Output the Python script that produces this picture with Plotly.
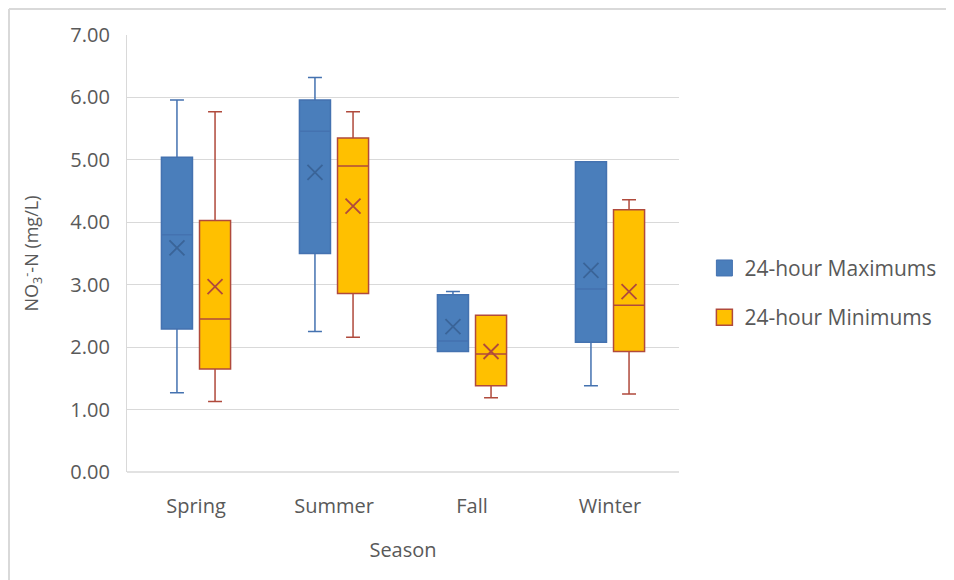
import plotly.graph_objects as go

seasons = ["Spring", "Summer", "Fall", "Winter"]

# 24-hour Maximums
max_lower = [1.27, 2.25, 1.93, 1.38]
max_q1 = [2.29, 3.50, 1.93, 2.08]
max_median = [3.80, 5.46, 2.10, 2.93]
max_q3 = [5.04, 5.96, 2.84, 4.97]
max_upper = [5.96, 6.32, 2.89, 4.97]
max_mean = [3.59, 4.80, 2.33, 3.23]

# 24-hour Minimums
min_lower = [1.13, 2.16, 1.19, 1.25]
min_q1 = [1.65, 2.86, 1.38, 1.93]
min_median = [2.45, 4.90, 1.89, 2.67]
min_q3 = [4.03, 5.35, 2.51, 4.20]
min_upper = [5.77, 5.77, 2.51, 4.36]
min_mean = [2.97, 4.26, 1.93, 2.89]

y_ticks = [0, 1, 2, 3, 4, 5, 6, 7]

FONT = "Open Sans"
GRAY = "#595959"
OFF = 0.138
BW = 0.225
BLUE_FILL, BLUE_LINE, BLUE_X = "#4a7ebb", "#4472b0", "#3a6498"
ORG_FILL, ORG_LINE, ORG_X = "#ffc000", "#b04a3c", "#b04a3c"

idx = list(range(len(seasons)))
x_max = [i - OFF for i in idx]
x_min = [i + OFF for i in idx]

fig = go.Figure()
fig.add_trace(go.Box(
    name="24-hour Maximums", x=x_max, q1=max_q1, median=max_median, q3=max_q3,
    lowerfence=max_lower, upperfence=max_upper, width=BW, whiskerwidth=0.45,
    fillcolor=BLUE_FILL, line=dict(color=BLUE_LINE, width=1.5),
    boxpoints=False, hoverinfo="skip", showlegend=False,
))
fig.add_trace(go.Box(
    name="24-hour Minimums", x=x_min, q1=min_q1, median=min_median, q3=min_q3,
    lowerfence=min_lower, upperfence=min_upper, width=BW, whiskerwidth=0.45,
    fillcolor=ORG_FILL, line=dict(color=ORG_LINE, width=1.5),
    boxpoints=False, hoverinfo="skip", showlegend=False,
))
fig.add_trace(go.Scatter(
    x=x_max, y=max_mean, mode="markers", showlegend=False, hoverinfo="skip",
    marker=dict(symbol="x-thin", size=15, line=dict(color=BLUE_X, width=1.8)),
))
fig.add_trace(go.Scatter(
    x=x_min, y=min_mean, mode="markers", showlegend=False, hoverinfo="skip",
    marker=dict(symbol="x-thin", size=15, line=dict(color=ORG_X, width=1.8)),
))
# legend entries
fig.add_trace(go.Scatter(
    x=[None], y=[None], mode="markers", name="24-hour Maximums", legendgroup="a",
    marker=dict(symbol="square", size=19, color=BLUE_FILL, line=dict(color=BLUE_LINE, width=1)),
))
fig.add_trace(go.Scatter(
    x=[None], y=[None], mode="markers", name="24-hour Minimums", legendgroup="b",
    marker=dict(symbol="square", size=19, color=ORG_FILL, line=dict(color=ORG_LINE, width=1.5)),
))

fig.update_layout(
    width=946, height=572,
    margin=dict(l=119, r=275, t=27, b=108),
    paper_bgcolor="white", plot_bgcolor="white",
    font=dict(family=FONT, size=20, color=GRAY),
    showlegend=True,
    legend=dict(x=1.046, y=0.41, xanchor="left", yanchor="middle",
                font=dict(size=21, color=GRAY), tracegroupgap=19,
                itemsizing="trace", bgcolor="rgba(0,0,0,0)"),
    xaxis=dict(range=[-0.5, 3.5], tickvals=idx, ticktext=seasons,
               showgrid=False, zeroline=False, showline=False,
               ticks="outside", ticklen=16, tickcolor="rgba(0,0,0,0)",
               tickfont=dict(size=20, color=GRAY),
               title=dict(text="Season", font=dict(size=20, color=GRAY), standoff=24)),
    yaxis=dict(range=[0, 7], tickvals=y_ticks, tickformat=".2f",
               gridcolor="#d9d9d9", gridwidth=1.3, zeroline=False,
               showline=True, linecolor="#d9d9d9", linewidth=1.3,
               ticks="outside", ticklen=12, tickcolor="rgba(0,0,0,0)",
               tickfont=dict(size=20, color=GRAY),
               title=dict(text="NO<sub>3</sub><sup>-</sup>-N (mg/L)",
                          font=dict(size=18, color=GRAY), standoff=26)),
    shapes=[
        dict(type="line", xref="paper", yref="paper", x0=0, x1=1, y0=0, y1=0,
             line=dict(color="#d9d9d9", width=1.3), layer="below"),
        dict(type="line", xref="paper", yref="paper",
             x0=(1 - 119) / 552, x1=(946 - 119) / 552,
             y0=(464 - 1) / 437, y1=(464 - 1) / 437,
             line=dict(color="#d9d9d9", width=2)),
        dict(type="line", xref="paper", yref="paper",
             x0=(1 - 119) / 552, x1=(1 - 119) / 552,
             y0=(464 - 1) / 437, y1=-108 / 437,
             line=dict(color="#d9d9d9", width=2)),
    ],
)

fig.write_html("out.html")
